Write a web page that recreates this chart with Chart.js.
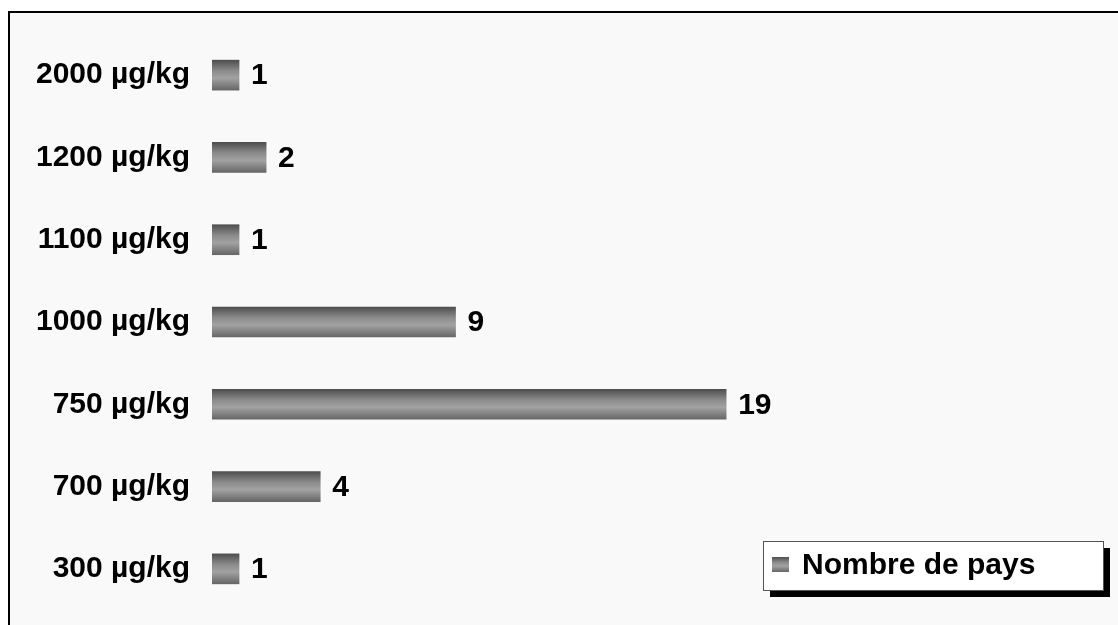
<!DOCTYPE html>
<html>
<head>
<meta charset="utf-8">
<script src="https://cdn.jsdelivr.net/npm/chart.js@4"></script>
<style>
  html, body { margin: 0; padding: 0; background: #ffffff; }
  #wrap { position: absolute; left: 0; top: 0; width: 1118px; height: 625px; }
</style>
</head>
<body>
<div id="wrap"><canvas id="bars"></canvas></div>
<script>
const categories = ['2000 µg/kg', '1200 µg/kg', '1100 µg/kg', '1000 µg/kg', '750 µg/kg', '700 µg/kg', '300 µg/kg'];
const countries = [1, 2, 1, 9, 19, 4, 1];
const seriesName = 'Nombre de pays';

const FONT = '"Liberation Sans", Arial, sans-serif';

function barGradient(ctx, top, bottom) {
  const g = ctx.createLinearGradient(0, top, 0, bottom);
  g.addColorStop(0, '#4e4e4e');
  g.addColorStop(0.35, '#8a8a8a');
  g.addColorStop(0.6, '#a2a2a2');
  g.addColorStop(1, '#666666');
  return g;
}

// frame: light panel with black left/top edge
const framePlugin = {
  id: 'frame',
  beforeDraw(chart) {
    const c = chart.ctx;
    c.save();
    c.fillStyle = '#ffffff';
    c.fillRect(0, 0, chart.width, chart.height);
    c.fillStyle = '#f9f9f9';
    c.fillRect(9, 12, chart.width, chart.height);
    c.strokeStyle = '#000000';
    c.lineWidth = 2;
    c.beginPath();
    c.moveTo(9, chart.height + 2);
    c.lineTo(9, 12);
    c.lineTo(chart.width + 2, 12);
    c.stroke();
    c.restore();
  }
};

// value next to the end of each bar
const valuePlugin = {
  id: 'values',
  afterDatasetsDraw(chart) {
    const c = chart.ctx;
    const meta = chart.getDatasetMeta(0);
    c.save();
    c.font = 'bold 30px ' + FONT;
    c.fillStyle = '#000000';
    c.textAlign = 'left';
    c.textBaseline = 'middle';
    meta.data.forEach((bar, i) => {
      c.fillText(String(countries[i]), bar.x + 12, bar.y + 1);
    });
    c.restore();
  }
};

// boxed legend with a drop shadow
const legendBox = {
  id: 'legendBox',
  afterDraw(chart) {
    const c = chart.ctx;
    const x = 763, y = 541, w = 340, h = 49;
    c.save();
    c.fillStyle = '#000000';
    c.fillRect(x + 7, y + 7, w, h);
    c.fillStyle = '#ffffff';
    c.fillRect(x, y, w, h);
    c.strokeStyle = '#555555';
    c.lineWidth = 1;
    c.strokeRect(x + 0.5, y + 0.5, w, h);
    c.fillStyle = barGradient(c, y + 16, y + 31);
    c.fillRect(x + 9, y + 16, 17, 15);
    c.font = 'bold 30px ' + FONT;
    c.fillStyle = '#000000';
    c.textBaseline = 'middle';
    c.fillText(seriesName, x + 39, y + 25);
    c.restore();
  }
};

new Chart(document.getElementById('bars'), {
  type: 'bar',
  data: {
    labels: categories,
    datasets: [{
      label: seriesName,
      data: countries,
      barThickness: 30,
      borderWidth: 0,
      backgroundColor: (context) => {
        const chart = context.chart;
        const yScale = chart.scales.y;
        const mid = yScale ? yScale.getPixelForValue(context.dataIndex) : NaN;
        if (!isFinite(mid)) return '#888888';
        return barGradient(chart.ctx, mid - 15, mid + 15);
      }
    }]
  },
  options: {
    indexAxis: 'y',
    responsive: true,
    maintainAspectRatio: false,
    animation: false,
    layout: { padding: { top: 34, bottom: 15, left: 0, right: 13 } },
    plugins: {
      legend: { display: false },
      tooltip: { enabled: false }
    },
    scales: {
      x: {
        display: false,
        min: 0,
        max: 33
      },
      y: {
        grid: { display: false, drawTicks: false },
        border: { display: false },
        ticks: {
          color: '#000000',
          padding: 22,
          font: { family: FONT, size: 30, weight: 'bold' }
        },
        afterFit(scale) {
          scale.width = 212;
          scale.paddingTop = 0;
          scale.paddingBottom = 0;
        }
      }
    }
  },
  plugins: [framePlugin, valuePlugin, legendBox]
});
</script>
</body>
</html>
